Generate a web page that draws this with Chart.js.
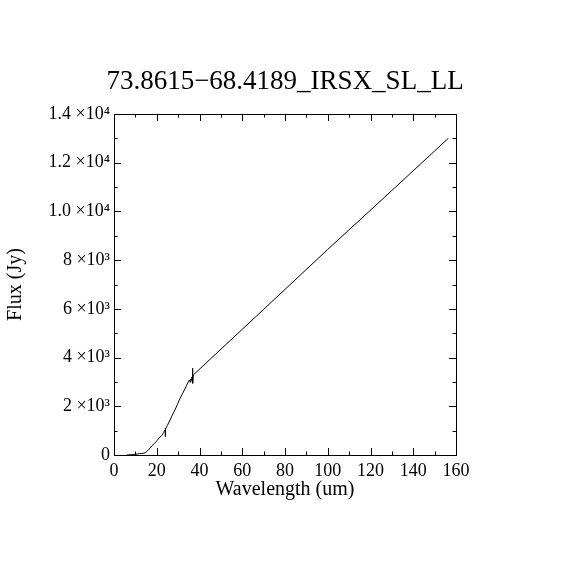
<!DOCTYPE html>
<html>
<head>
<meta charset="utf-8">
<script src="https://cdn.jsdelivr.net/npm/chart.js@4/dist/chart.umd.min.js"></script>
<style>
  body { margin: 0; background: #fff; }
  #wrap { width: 570px; height: 570px; }
</style>
</head>
<body>
<div id="wrap"><canvas id="spec" width="570" height="570"></canvas></div>
<script>
// spectrum
const wavelength = [5.9, 7, 8, 9, 10, 11, 12, 13, 14, 14.5, 15.3, 16.5, 17.6, 19, 20, 21, 22.3, 23.2, 23.9, 24.0, 24.05, 24.1,
    25, 26.2, 27.3, 28.5, 29.7, 30.9, 32, 32.9, 33.9, 34.8, 35.3, 35.6, 35.9, 36.2, 36.5, 36.7, 36.8, 36.9, 37.1, 40.2,
    70, 100, 130, 156.4];
const flux = [0, 8, 12, 20, 30, 45, 55, 65, 75, 90, 140, 250, 370, 480, 580, 680, 800, 920, 1030, 750, 1100, 1060,
    1220, 1437, 1640, 1847, 2080, 2327, 2510, 2668, 2840, 3010, 3080, 2990, 3120, 3060, 3200, 3180, 3560, 2943, 3284, 3540,
    5980, 8440, 10860, 13000];

const xTicks = [0, 20, 40, 60, 80, 100, 120, 140, 160];
const yTicks = [0, 2000, 4000, 6000, 8000, 10000, 12000, 14000];
const yTickLabels = ['0', '2 ×10³', '4 ×10³', '6 ×10³', '8 ×10³', '1.0 ×10⁴', '1.2 ×10⁴', '1.4 ×10⁴'];

const points = wavelength.map((w, i) => ({ x: w, y: flux[i] }));

const FONT = "'Liberation Serif', 'DejaVu Serif', serif";

// box + inward ticks, idl style
const frameTicks = {
    id: 'frameTicks',
    afterDatasetsDraw(chart) {
        const ctx = chart.ctx;
        const a = chart.chartArea;
        const xs = chart.scales.x, ys = chart.scales.y;
        ctx.save();
        ctx.strokeStyle = '#000';
        ctx.lineWidth = 1;
        ctx.strokeRect(Math.round(a.left) + 0.5, Math.round(a.top) + 0.5,
            Math.round(a.right - a.left), Math.round(a.bottom - a.top));
        ctx.beginPath();
        for (let v = 0; v <= 160; v += 10) {
            const len = v % 20 === 0 ? 7 : 3.5;
            const px = Math.round(xs.getPixelForValue(v)) + 0.5;
            ctx.moveTo(px, a.bottom); ctx.lineTo(px, a.bottom - len);
            ctx.moveTo(px, a.top); ctx.lineTo(px, a.top + len);
        }
        for (let v = 0; v <= 14000; v += 1000) {
            const len = v % 2000 === 0 ? 7 : 3.5;
            const py = Math.round(ys.getPixelForValue(v)) + 0.5;
            ctx.moveTo(a.left, py); ctx.lineTo(a.left + len, py);
            ctx.moveTo(a.right, py); ctx.lineTo(a.right - len, py);
        }
        ctx.stroke();
        ctx.restore();
    }
};

new Chart(document.getElementById('spec'), {
    type: 'scatter',
    data: {
        datasets: [{
            data: points,
            showLine: true,
            borderColor: '#000',
            borderWidth: 1,
            pointRadius: 0,
            tension: 0
        }]
    },
    options: {
        responsive: false,
        animation: false,
        devicePixelRatio: 1,
        layout: { padding: 0 },
        plugins: {
            legend: { display: false },
            tooltip: { enabled: false },
            title: {
                display: true,
                text: '73.8615\u221268.4189_IRSX_SL_LL',
                color: '#000',
                font: { family: FONT, size: 27, weight: 'normal', lineHeight: 1.2 },
                padding: { top: 65.8, bottom: 15.8 }
            }
        },
        scales: {
            x: {
                type: 'linear',
                min: 0, max: 160,
                afterFit: s => { s.height = 115; },
                afterBuildTicks: s => { s.ticks = xTicks.map(v => ({ value: v })); },
                grid: { display: false, drawTicks: false },
                border: { display: true, color: '#000' },
                ticks: {
                    color: '#000', padding: 5, maxRotation: 0,
                    font: { family: FONT, size: 18 }
                },
                title: {
                    display: true, text: 'Wavelength (um)', color: '#000',
                    font: { family: FONT, size: 20, lineHeight: 1.2 },
                    padding: { top: 0, bottom: 68 }
                }
            },
            y: {
                type: 'linear',
                min: 0, max: 14000,
                afterFit: s => { s.width = 114; },
                afterBuildTicks: s => { s.ticks = yTicks.map(v => ({ value: v })); },
                grid: { display: false, drawTicks: false },
                border: { display: true, color: '#000' },
                ticks: {
                    color: '#000', padding: 4,
                    font: { family: FONT, size: 18 },
                    callback: v => yTickLabels[yTicks.indexOf(v)]
                },
                title: {
                    display: true, text: 'Flux (Jy)', color: '#000',
                    font: { family: FONT, size: 20, lineHeight: 1.2 },
                    padding: { top: 4, bottom: 0 }
                }
            },
            // empty right-hand margin so the title centres on the page
            yRight: {
                type: 'linear',
                position: 'right',
                min: 0, max: 14000,
                afterFit: s => { s.width = 114; },
                grid: { display: false, drawTicks: false },
                border: { display: false },
                ticks: { display: false }
            }
        }
    },
    plugins: [frameTicks]
});
</script>
</body>
</html>
